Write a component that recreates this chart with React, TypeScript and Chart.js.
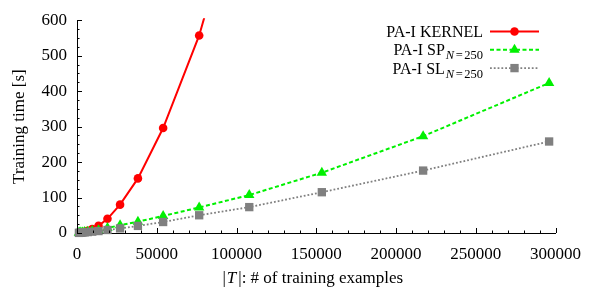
import React, { useEffect, useRef } from "react";
import { Chart, registerables } from "chart.js";

Chart.register(...registerables);

// ---- data ----
const trainingSizes = [1190, 1690, 2390, 3370, 4770, 6750, 9550, 13500, 19100, 27000, 38200, 54000, 76600, 108000, 153500, 217000, 296000];
const kernelTimes = [0.3, 0.6, 1, 2, 3.5, 6, 11, 20, 40, 80, 154, 296, 557, 1050];
const spTimes = [0.5, 0.8, 1.1, 1.6, 2.5, 3.5, 5.5, 8, 14, 22, 32, 48, 72, 107, 170, 273, 423];
const slTimes = [0.3, 0.5, 0.8, 1.2, 1.8, 2.6, 3.8, 5.5, 8.5, 13, 20, 31, 50, 73, 115, 176, 258];
const seriesNames = ["PA-I KERNEL", "PA-I SP", "PA-I SL"];
const seriesSubscripts = ["", "N=250", "N=250"];
const xTickStep = 50000;
const xMinorStep = 10000;
const yTickStep = 100;
const yMinorStep = 25;
const xMax = 300000;
const yMax = 600;
const yTitle = "Training time [s]";
const xTitleParts = ["|", "T", "|: # of training examples"];

const SERIF = '"Liberation Serif", "Times New Roman", serif';

const toPoints = (ys: number[]) => ys.map((y, i) => ({ x: trainingSizes[i], y }));

const decorPlugin = {
  id: "decor",
  afterDraw(chart: any) {
    const ctx = chart.ctx as CanvasRenderingContext2D;
    const xs = chart.scales.x;
    const ys = chart.scales.y;
    const area = chart.chartArea;
    ctx.save();
    // inward tick marks
    ctx.strokeStyle = "#000";
    ctx.lineWidth = 1;
    ctx.beginPath();
    for (let v = xs.min; v <= xs.max + 1e-6; v += xMinorStep) {
      const px = Math.round(xs.getPixelForValue(v)) + 0.5;
      const len = v % xTickStep === 0 ? 5 : 2.5;
      ctx.moveTo(px, area.bottom);
      ctx.lineTo(px, area.bottom - len);
    }
    for (let v = ys.min; v <= ys.max + 1e-6; v += yMinorStep) {
      const py = Math.round(ys.getPixelForValue(v)) + 0.5;
      const len = v % yTickStep === 0 ? 5 : 2.5;
      ctx.moveTo(area.left, py);
      ctx.lineTo(area.left + len, py);
    }
    ctx.stroke();

    // x axis title with italic T
    ctx.fillStyle = "#000";
    ctx.textBaseline = "alphabetic";
    const fUp = `17px ${SERIF}`;
    const fIt = `italic 17px ${SERIF}`;
    ctx.font = fUp;
    const w0 = ctx.measureText(xTitleParts[0]).width;
    const w2 = ctx.measureText(xTitleParts[2]).width;
    ctx.font = fIt;
    const w1 = ctx.measureText(xTitleParts[1]).width + 2;
    const total = w0 + w1 + w2;
    let tx = (area.left + area.right) / 2 - 4 - total / 2;
    const ty = 283;
    ctx.font = fUp;
    ctx.fillText(xTitleParts[0], tx, ty);
    tx += w0 + 1;
    ctx.font = fIt;
    ctx.fillText(xTitleParts[1], tx, ty);
    tx += w1;
    ctx.font = fUp;
    ctx.fillText(xTitleParts[2], tx, ty);

    // legend
    const right = 483;
    chart.data.datasets.forEach((ds: any, i: number) => {
      const cy = 31.5 + i * 18.3;
      const base = cy + 5.5;
      const name = seriesNames[i];
      const sub = seriesSubscripts[i];
      ctx.font = `16px ${SERIF}`;
      const mainW = ctx.measureText(name).width;
      let subW = 0;
      let nW = 0, eqW = 0, numW = 0;
      if (sub) {
        ctx.font = `italic 12.5px ${SERIF}`;
        nW = ctx.measureText("N").width;
        ctx.font = `12.5px ${SERIF}`;
        eqW = ctx.measureText("=").width + 3;
        numW = ctx.measureText("250").width;
        subW = nW + eqW + numW + 1;
      }
      let x0 = right - mainW - subW;
      ctx.fillStyle = "#000";
      ctx.font = `16px ${SERIF}`;
      ctx.fillText(name, x0, base);
      if (sub) {
        let sx = x0 + mainW + 1;
        const sb = base + 4;
        ctx.font = `italic 12.5px ${SERIF}`;
        ctx.fillText("N", sx, sb);
        sx += nW + 1.5;
        ctx.font = `12.5px ${SERIF}`;
        ctx.fillText("=", sx, sb);
        sx += eqW - 1.5;
        ctx.fillText("250", sx, sb);
      }
      // sample line
      ctx.save();
      ctx.strokeStyle = ds.borderColor;
      ctx.lineWidth = ds.borderWidth;
      ctx.setLineDash(ds.borderDash || []);
      ctx.beginPath();
      ctx.moveTo(490, cy);
      ctx.lineTo(539, cy);
      ctx.stroke();
      ctx.setLineDash([]);
      ctx.fillStyle = ds.pointBackgroundColor;
      const mx = 514.5;
      const r = ds.pointRadius;
      ctx.beginPath();
      if (ds.pointStyle === "circle") {
        ctx.arc(mx, cy, r, 0, Math.PI * 2);
      } else if (ds.pointStyle === "triangle") {
        for (let k = 0; k < 3; k++) {
          const a = (k * 2 * Math.PI) / 3;
          const px = mx + Math.sin(a) * r;
          const py = cy - Math.cos(a) * r;
          if (k === 0) ctx.moveTo(px, py);
          else ctx.lineTo(px, py);
        }
        ctx.closePath();
      } else {
        const h = r * Math.SQRT1_2;
        ctx.rect(mx - h, cy - h, 2 * h, 2 * h);
      }
      ctx.fill();
      ctx.restore();
    });
    ctx.restore();
  },
};

export default function App() {
  const ref = useRef<HTMLCanvasElement | null>(null);
  useEffect(() => {
    if (!ref.current) return;
    const chart = new Chart(ref.current, {
      type: "line",
      data: {
        datasets: [
          {
            label: seriesNames[0],
            data: toPoints(kernelTimes),
            borderColor: "#ff0000",
            backgroundColor: "#ff0000",
            pointBackgroundColor: "#ff0000",
            pointBorderWidth: 0,
            borderWidth: 2,
            pointStyle: "circle",
            pointRadius: 4.3,
            order: 2,
            clip: 2,
          } as any,
          {
            label: seriesNames[1],
            data: toPoints(spTimes),
            borderColor: "#00f000",
            backgroundColor: "#00f000",
            pointBackgroundColor: "#00f000",
            pointBorderWidth: 0,
            borderWidth: 2,
            borderDash: [4, 2.5],
            pointStyle: "triangle",
            pointRadius: 6,
            order: 1,
            clip: false,
          } as any,
          {
            label: seriesNames[2],
            data: toPoints(slTimes),
            borderColor: "#808080",
            backgroundColor: "#808080",
            pointBackgroundColor: "#808080",
            pointBorderWidth: 0,
            borderWidth: 1.8,
            borderDash: [1.8, 2],
            pointStyle: "rect",
            pointRadius: 5.9,
            order: 0,
            clip: false,
          } as any,
        ],
      },
      options: {
        responsive: false,
        animation: false,
        events: [],
        layout: { padding: { top: 17, right: 31, left: 0, bottom: 0 } },
        plugins: { legend: { display: false }, tooltip: { enabled: false } },
        scales: {
          x: {
            type: "linear",
            min: 0,
            max: xMax,
            grid: { display: false, drawTicks: false },
            border: { display: true, color: "#000", width: 1 },
            ticks: {
              stepSize: xTickStep,
              padding: 11,
              color: "#000",
              font: { family: SERIF, size: 17 },
              callback: (v: any) => String(v),
              maxRotation: 0,
              autoSkip: false,
            },
            afterFit: (s: any) => {
              s.height = 56;
            },
          },
          y: {
            type: "linear",
            min: 0,
            max: yMax,
            grid: { display: false, drawTicks: false },
            border: { display: true, color: "#000", width: 1 },
            ticks: {
              stepSize: yTickStep,
              padding: 10,
              color: "#000",
              font: { family: SERIF, size: 17 },
              callback: (v: any) => String(v),
            },
            title: {
              display: true,
              text: yTitle,
              color: "#000",
              font: { family: SERIF, size: 17 },
              padding: { top: 9, bottom: 0 },
            },
            afterFit: (s: any) => {
              s.width = 77;
            },
          },
        },
      },
      plugins: [decorPlugin],
    });
    return () => chart.destroy();
  }, []);
  return (
    <div style={{ position: "fixed", left: 0, top: 0, width: 592, height: 289, background: "#fff" }}>
      <canvas ref={ref} width={592} height={289} style={{ display: "block" }} />
    </div>
  );
}
